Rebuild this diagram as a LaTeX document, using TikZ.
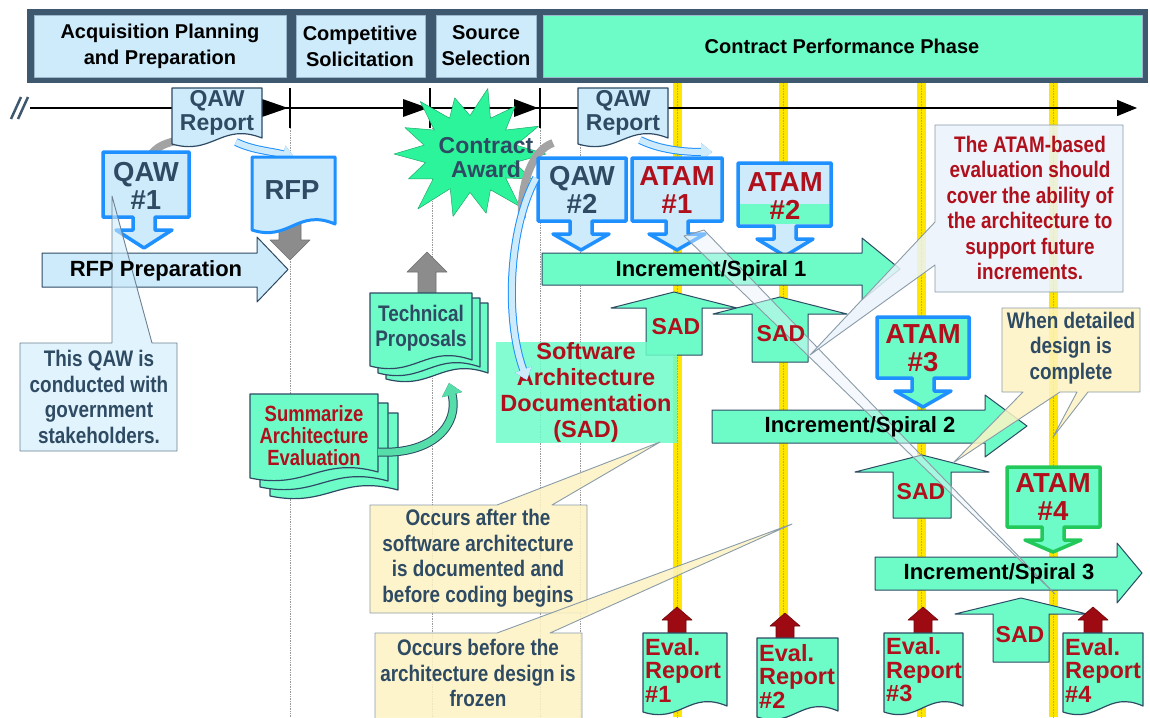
\documentclass[tikz,border=0pt]{standalone}
\usepackage{fontspec}
\setmainfont{Liberation Sans}
\newfontfamily\nar{Liberation Sans}[FakeStretch=0.84]
\usetikzlibrary{arrows.meta}

\definecolor{frame}{HTML}{3E5870}
\definecolor{cellbd}{HTML}{9CB8CC}
\definecolor{lblue}{HTML}{CDEBFA}
\definecolor{mint}{HTML}{6DFCC8}
\definecolor{starg}{HTML}{2CF49A}
\definecolor{bblue}{HTML}{1E90FF}
\definecolor{dred}{HTML}{B0101C}
\definecolor{slate}{HTML}{2E4B63}
\definecolor{ylw}{HTML}{FFE600}
\definecolor{lyel}{HTML}{FDF3C4}
\definecolor{gbrd}{HTML}{8A9BA8}
\definecolor{arrred}{HTML}{9E0A12}
\definecolor{garr}{HTML}{8C8C8C}
\definecolor{gbord}{HTML}{22C85A}
\definecolor{callbg}{HTML}{EAF3FB}
\definecolor{cmint}{HTML}{55DDAA}

\newcommand\fHdr{\bfseries\fontsize{20}{26}\selectfont}
\newcommand\fBig{\bfseries\fontsize{27.5}{28}\selectfont}
\newcommand\fMid{\bfseries\fontsize{23}{24}\selectfont}
\newcommand\fSad{\bfseries\fontsize{23.5}{26}\selectfont}
\newcommand\fArr{\bfseries\fontsize{22}{24}\selectfont}
\newcommand\fNote{\nar\bfseries\fontsize{22.5}{25.5}\selectfont}
\newcommand\fEval{\bfseries\fontsize{23.5}{23.5}\selectfont}

% down callout: style, x1, y1, x2, y2, cx, tip
\newcommand\mkdcall[7]{\draw[#1] (#2,#3) -- (#4,#3) -- (#4,#5) -- ({#6+11},#5) -- ({#6+11},{#5+13}) -- ({#6+28},{#5+13}) -- (#6,#7) -- ({#6-28},{#5+13}) -- ({#6-11},{#5+13}) -- ({#6-11},#5) -- (#2,#5) -- cycle;}
% right block arrow: style, x1, ytop, ybot, xhead, headtop, headbot, xtip
\newcommand\mkrarr[8]{\draw[#1] (#2,#3) -- (#5,#3) -- (#5,#6) -- (#8,{(#6+#7)/2}) -- (#5,#7) -- (#5,#4) -- (#2,#4) -- cycle;}
% vertical block arrow: style, cx, tip, headbase, headhalf, bodyhalf, end
\newcommand\mkuarr[7]{\draw[#1] (#2,#3) -- ({#2+#5},#4) -- ({#2+#6},#4) -- ({#2+#6},#7) -- ({#2-#6},#7) -- ({#2-#6},#4) -- ({#2-#5},#4) -- cycle;}
% document: style, x1, y1, x2, y2
\newcommand\mkdoc[5]{\draw[#1] (#2,#3) -- (#4,#3) -- (#4,{#5-8}) .. controls ({#4-0.45*(#4-#2)},{#5-24}) and ({#2+0.45*(#4-#2)},{#5+10}) .. (#2,{#5-2}) -- cycle;}

\tikzset{
 hcell/.style={draw=cellbd, line width=0.8},
 bcall/.style={draw=bblue, line width=3.5},
 gcall/.style={draw=gbord, line width=3.5},
 darr/.style={draw=slate, line width=1},
 garrow/.style={fill=garr, draw=garr!80!black, line width=0.6},
 rarrow/.style={fill=arrred, draw=arrred!70!black, line width=0.6},
 pdoc/.style={draw=slate, line width=1.2},
 bdoc/.style={draw=bblue, line width=3, fill=lblue},
 callout/.style={draw=gbrd, line width=0.9, fill opacity=0.85},
 dotln/.style={draw=gray!80, line width=0.7, densely dotted},
 cband/.style={draw=lblue, line width=6, preaction={draw=bblue, line width=8}},
 gband/.style={draw=garr!80, line width=8},
 mband/.style={draw=cmint, line width=7, preaction={draw=slate, line width=9}},
 sl/.style={text=slate, align=center, inner sep=0},
 rd/.style={text=dred, align=center, inner sep=0},
 bk/.style={text=black, align=center, inner sep=0}
}

\begin{document}
\begin{tikzpicture}[x=1pt,y=-1pt,line join=round]
\useasboundingbox (0,0) rectangle (1150,717);
\fill[white] (0,0) rectangle (1150,717);
\clip (0,0) rectangle (1150,717);

% header
\fill[frame] (27,9) rectangle (1148,83);
\draw[hcell, fill=lblue] (34,15) rectangle (286,77);
\draw[hcell, fill=lblue] (296,15) rectangle (425,77);
\draw[hcell, fill=lblue] (436,15) rectangle (536,77);
\draw[hcell, fill=mint] (543,15) rectangle (1142,77);
\node[bk, font=\fHdr] (hA) at (160,46) {Acquisition Planning\\and Preparation};
\node[bk, font=\fHdr] (hB) at (360,46) {Competitive\\Solicitation};
\node[bk, font=\fHdr] (hC) at (486,46) {Source\\Selection};
\node[bk, font=\fHdr] (hD) at (842,46) {Contract Performance Phase};

% yellow milestone lines
\foreach \x in {677,783,921,1053} {
  \fill[ylw] ({\x-4.5},83) rectangle ({\x+4.5},717);
  \draw[gray!70, densely dotted, line width=0.6] (\x,83) -- (\x,717);
}
% dotted phase lines
\foreach \x in {290,432,540,580} { \draw[dotln] (\x,128) -- (\x,717); }

% timeline
\coordinate (t0) at (30,108);
\coordinate (t1) at (1137,108);
\draw[line width=1.3, -{Triangle[width=16pt,length=20pt]}] (t0) -- (t1);
\draw[line width=2.5, frame] (11,119) -- (21,97) (18,119) -- (28,97);
\foreach \x in {290,430,540} { \draw[line width=1.3] (\x,88) -- (\x,128); }
\fill (262,99) -- (288,108) -- (262,117) -- cycle;
\fill (403,99) -- (428,108) -- (403,117) -- cycle;
\fill (514,99) -- (538,108) -- (514,117) -- cycle;

% ---- acquisition planning
\draw[gband] (150,156) .. controls (156,147) and (166,142) .. (182,140);
\mkuarr{garrow}{290}{260}{240}{20}{11}{222}
\draw[cband, -{Triangle[width=17pt,length=11pt]}] (236,142) .. controls (252,150) and (270,151) .. (294,157);
\mkdoc{pdoc, fill=lblue}{172}{88}{262}{146}
\node[sl, font=\fMid] (qr1) at (217,113) {QAW\\Report};
\mkdoc{bdoc}{252}{157}{335}{232}
\node[sl, font=\fBig] (rfp) at (292,190) {RFP};
\mkrarr{darr, fill=lblue}{42}{253}{287}{257}{237}{302}{288}
\mkdcall{bcall, fill=lblue}{103}{152}{189}{217}{144}{248}
\node[sl, font=\fBig] (qaw1) at (146,186) {QAW\\\#1};

% ---- source selection
\draw[fill=starg, draw=starg!70!black, line width=0.5] ({470+76},154)
  \foreach \a/\r in {12.9/0.6, 25.7/0.9, 38.6/0.6, 51.4/1.05, 64.3/0.62, 77.1/0.95, 90/0.6, 102.9/1.0, 115.7/0.6, 128.6/1.1, 141.4/0.62, 154.3/0.9, 167.1/0.6, 180/1.0, 192.9/0.62, 205.7/0.95, 218.6/0.6, 231.4/1.05, 244.3/0.62, 257.1/0.9, 270/0.6, 282.9/1.05, 295.7/0.62, 308.6/0.95, 321.4/0.6, 334.3/1.0, 347.1/0.62}
  { -- ({470+76*\r*cos(\a)},{154+64*\r*sin(\a)}) } -- cycle;
\node[sl, font=\fMid] (award) at (486,158) {Contract\\Award};
\draw[gband] (553,143) .. controls (532,150) and (520,185) .. (522,218);

% ---- increment 1
\draw[cband, -{Triangle[width=17pt,length=11pt]}] (640,140) .. controls (660,150) and (685,152) .. (712,152);
\mkdoc{pdoc, fill=lblue}{578}{88}{668}{146}
\node[sl, font=\fMid] (qr2) at (623,113) {QAW\\Report};
\mkdcall{bcall, fill=lblue}{538}{158}{626}{221}{581}{250}
\node[sl, font=\fBig] (qaw2) at (582,190) {QAW\\\#2};
\mkdcall{bcall, fill=lblue}{632}{158}{722}{221}{677}{250}
\node[rd, font=\fBig] (atam1) at (677,190) {ATAM\\\#1};
\mkdcall{fill=lblue, draw=none}{738}{163}{831}{226}{785}{256}
\fill[mint] (740,204) rectangle (829,224);
\mkdcall{bcall}{738}{163}{831}{226}{785}{256}
\node[rd, font=\fBig] (atam2) at (785,196) {ATAM\\\#2};
\mkrarr{darr, fill=mint}{542}{253}{285}{862}{238}{300}{900}
\mkuarr{darr, fill=mint}{674}{292}{308}{63}{28}{355}
\mkuarr{darr, fill=mint}{780}{297}{314}{67}{28}{362}

% ---- proposals
\mkuarr{garrow}{427}{252}{272}{20}{9}{295}
\mkdoc{pdoc, fill=mint}{386}{303}{488}{381}
\mkdoc{pdoc, fill=mint}{378}{298}{480}{375}
\mkdoc{pdoc, fill=mint}{370}{293}{472}{368}
\node[sl, font=\fNote] (tech) at (421,328) {Technical\\Proposals};
\mkdoc{pdoc, fill=mint}{270}{413}{398}{498}
\mkdoc{pdoc, fill=mint}{260}{403}{388}{489}
\mkdoc{pdoc, fill=mint}{250}{394}{378}{480}
\node[rd, font=\nar\bfseries\fontsize{22}{22}\selectfont] (summ) at (314,436) {Summarize\\Architecture\\Evaluation};
\draw[mband, -{Triangle[width=20pt,length=12pt]}] (378,452) .. controls (432,455) and (460,425) .. (449,383);

% ---- SAD document
\fill[mint, fill opacity=0.85] (496,342) rectangle (677,443);
\node[rd, font=\fSad] (sadbox) at (586,392) {Software\\Architecture\\Documentation\\(SAD)};
\draw[cband, -{Triangle[width=17pt,length=11pt]}] (536,178) .. controls (508,230) and (505,320) .. (527,380);

% ---- increment 2 and 3
\mkdcall{bcall, fill=mint}{877}{317}{969}{378}{923}{407}
\node[rd, font=\fBig] (atam3) at (923,348) {ATAM\\\#3};
\mkrarr{darr, fill=mint}{712}{410}{443}{985}{395}{457}{1027}
\mkuarr{darr, fill=mint}{922}{455}{472}{67}{29}{518}
\mkdcall{gcall, fill=mint}{1007}{467}{1100}{527}{1053}{552}
\node[rd, font=\fBig] (atam4) at (1053,497) {ATAM\\\#4};
\mkrarr{darr, fill=mint}{875}{557}{590}{1117}{543}{603}{1142}
\mkuarr{darr, fill=mint}{1021}{598}{614}{66}{28}{662}

% ---- evaluation reports
\mkuarr{rarrow}{677}{607}{620}{15}{9}{636}
\mkdoc{pdoc, fill=mint}{643}{633}{727}{714}
\node[text=dred, align=left, inner sep=0, anchor=west, font=\fEval] (ev1) at (645,670) {Eval.\\Report\\\#1};
\mkuarr{rarrow}{785}{613}{626}{15}{9}{641}
\mkdoc{pdoc, fill=mint}{757}{638}{838}{719}
\node[text=dred, align=left, inner sep=0, anchor=west, font=\fEval] (ev2) at (759,676) {Eval.\\Report\\\#2};
\mkuarr{rarrow}{923}{607}{620}{15}{9}{636}
\mkdoc{pdoc, fill=mint}{884}{633}{963}{714}
\node[text=dred, align=left, inner sep=0, anchor=west, font=\fEval] (ev3) at (886,670) {Eval.\\Report\\\#3};
\mkuarr{rarrow}{1093}{607}{620}{15}{9}{636}
\mkdoc{pdoc, fill=mint}{1063}{633}{1143}{714}
\node[text=dred, align=left, inner sep=0, anchor=west, font=\fEval] (ev4) at (1065,670) {Eval.\\Report\\\#4};

% ---- callouts
\draw[callout, fill=callbg, fill opacity=0.45] (684,236) -- (704,230) -- (1055,594) -- cycle;
\draw[callout, draw=slate!70, fill=lblue, fill opacity=0.6] (20,343) -- (112,343) -- (112,196) -- (152,343) -- (177,343) -- (177,451) -- (20,451) -- cycle;
\node[sl, font=\fNote] (n1) at (99,397) {This QAW is\\conducted with\\government\\stakeholders.};
\draw[callout, fill=callbg] (935,125) -- (1123,125) -- (1123,292) -- (935,292) -- (935,265) -- (810,355) -- (935,222) -- cycle;
\node[rd, font=\fNote] (n2) at (1030,208) {The ATAM-based\\evaluation should\\cover the ability of\\the architecture to\\support future\\increments.};
\draw[callout, fill=lyel] (1002,308) -- (1140,308) -- (1140,392) -- (1088,392) -- (1053,437) -- (1077,392) -- (1060,392) -- (953,463) -- (1023,392) -- (1002,392) -- cycle;
\node[sl, font=\fNote] (n3) at (1071,348) {When detailed\\design is\\complete};
\draw[callout, fill=lyel] (370,505) -- (497,505) -- (660,442) -- (552,505) -- (587,505) -- (587,613) -- (370,613) -- cycle;
\node[sl, font=\fNote] (n4) at (478,558) {Occurs after the\\software architecture\\is documented and\\before coding begins};
\draw[callout, fill=lyel] (375,633) -- (497,633) -- (792,524) -- (550,633) -- (582,633) -- (582,722) -- (375,722) -- cycle;
\node[sl, font=\fNote] (n5) at (478,673) {Occurs before the\\architecture design is\\frozen};

% ---- arrow labels drawn on top of the pointers
\node[bk, font=\fArr] (rfpp) at (156,271) {RFP Preparation};
\node[bk, font=\fArr] (inc1) at (711,271) {Increment/Spiral 1};
\node[bk, font=\fArr] (inc2) at (860,427) {Increment/Spiral 2};
\node[bk, font=\fArr] (inc3) at (999,574) {Increment/Spiral 3};
\node[rd, font=\fMid] (sad1) at (676,327) {SAD};
\node[rd, font=\fMid] (sad2) at (781,334) {SAD};
\node[rd, font=\fMid] (sad3) at (921,492) {SAD};
\node[rd, font=\fMid] (sad4) at (1020,635) {SAD};
\end{tikzpicture}
\end{document}
